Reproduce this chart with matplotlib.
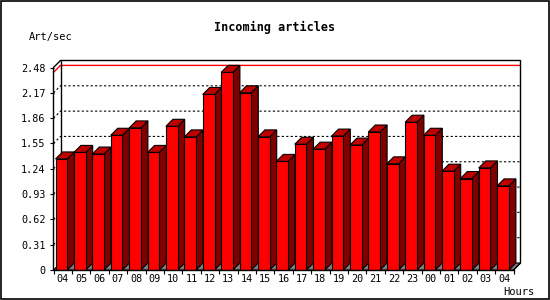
import matplotlib.pyplot as plt
from matplotlib.patches import Polygon, Rectangle

# data
hours = ["04", "05", "06", "07", "08", "09", "10", "11", "12", "13", "14", "15", "16",
         "17", "18", "19", "20", "21", "22", "23", "00", "01", "02", "03", "04"]
rate = [1.36, 1.44, 1.42, 1.65, 1.74, 1.44, 1.76, 1.63, 2.15, 2.42, 2.17, 1.63, 1.33,
        1.54, 1.48, 1.64, 1.53, 1.69, 1.30, 1.81, 1.65, 1.21, 1.12, 1.25, 1.03]
yticks = [0, 0.31, 0.62, 0.93, 1.24, 1.55, 1.86, 2.17, 2.48]
ytick_labels = ["0", "0.31", "0.62", "0.93", "1.24", "1.55", "1.86", "2.17", "2.48"]

n = len(rate)
ymax = yticks[-1]

# pixel geometry of the plot
W, H = 550, 300
left_px, right_px = 53.5, 520.5
bottom_px, top_px = 270, 60.5
depth_px = 7
slot_px = (right_px - depth_px - left_px) / n
unit_px = (bottom_px - (top_px + depth_px)) / ymax
dx = depth_px / slot_px
dy = depth_px / unit_px

fig = plt.figure(figsize=(W / 100, H / 100), dpi=100)
ax = fig.add_axes([left_px / W, 1 - bottom_px / H,
                   (right_px - left_px) / W, (bottom_px - top_px) / H])
ax.set_xlim(0, n + dx)
ax.set_ylim(0, ymax + dy)
for s in ax.spines.values():
    s.set_visible(False)
ax.patch.set_visible(False)

mono = "DejaVu Sans Mono"

# ticks
ax.set_yticks(yticks)
ax.set_yticklabels(ytick_labels, family=mono, fontsize=7.3)
ax.tick_params(axis="y", length=2.6, width=0.8, pad=3)
ax.set_xticks(range(n + 1))
ax.set_xticklabels([])
ax.tick_params(axis="x", which="major", length=3, width=0.8)
ax.set_xticks([i + 0.5 for i in range(n)], minor=True)
ax.set_xticklabels(hours, minor=True, family=mono, fontsize=7.3)
ax.tick_params(axis="x", which="minor", length=0, pad=3)

lw = 0.8
# floor
ax.add_patch(Polygon([(0, 0), (n, 0), (n + dx, dy), (dx, dy)], closed=True,
                     facecolor="#808080", edgecolor="black", lw=lw, zorder=1))

# dotted grid on left wall and back wall
for v in yticks[1:-1]:
    ax.plot([0, dx, n + dx], [v, v + dy, v + dy], color="black", lw=0.8,
            dashes=(2, 2), zorder=2)

# max line in red
vmax = max(rate)
ax.plot([0, dx, n + dx], [vmax, vmax + dy, vmax + dy], color="red", lw=1, zorder=2)

# frame of the plot
ax.plot([0, 0, dx, n + dx, n + dx, n], [0, ymax, ymax + dy, ymax + dy, dy, 0],
        color="black", lw=1, zorder=2, clip_on=False)
ax.plot([dx, dx], [dy, ymax + dy], color="black", lw=1, zorder=2)
ax.plot([0, n], [0, 0], color="black", lw=1, zorder=6, clip_on=False)

# bars
off = 0.11
bw = 0.64
for i, v in enumerate(rate):
    x0 = i + off
    x1 = x0 + bw
    z = 3 + i * 0.01
    ax.add_patch(Polygon([(x1, 0), (x1 + dx, dy), (x1 + dx, v + dy), (x1, v)],
                         closed=True, facecolor="#800000", edgecolor="black",
                         lw=lw, zorder=z))
    ax.add_patch(Polygon([(x0, v), (x1, v), (x1 + dx, v + dy), (x0 + dx, v + dy)],
                         closed=True, facecolor="#c00000", edgecolor="black",
                         lw=lw, zorder=z))
    ax.add_patch(Rectangle((x0, 0), bw, v, facecolor="#ff0000", edgecolor="black",
                           lw=lw, zorder=z + 0.005))

# texts
fig.text(275 / W, 1 - 27 / H, "Incoming articles", ha="center", va="center",
         family=mono, fontweight="bold", fontsize=8.5)
fig.text(29 / W, 1 - 37 / H, "Art/sec", ha="left", va="center", family=mono,
         fontsize=7.5)
fig.text(534 / W, 1 - 292 / H, "Hours", ha="right", va="center", family=mono,
         fontsize=7.5)

# outer border
fig.patches.append(Rectangle((0.001, 0.002), 0.997, 0.996, transform=fig.transFigure,
                             fill=False, edgecolor="black", lw=1.2))

fig.savefig("out.png", dpi=100)
